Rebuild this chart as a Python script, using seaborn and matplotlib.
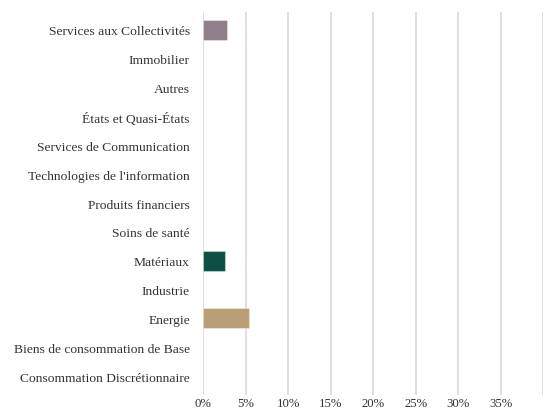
import pandas as pd
import matplotlib.pyplot as plt
import seaborn as sns
from matplotlib.ticker import FuncFormatter

# Sector breakdown (share of portfolio)
sectors = [
    "Services aux Collectivités",
    "Immobilier",
    "Autres",
    "États et Quasi-États",
    "Services de Communication",
    "Technologies de l'information",
    "Produits financiers",
    "Soins de santé",
    "Matériaux",
    "Industrie",
    "Energie",
    "Biens de consommation de Base",
    "Consommation Discrétionnaire",
]
weights = [0.028, 0, 0, 0, 0, 0, 0, 0, 0.026, 0, 0.054, 0, 0]
bar_colors = ["#8f7f8a", "#8f7f8a", "#8f7f8a", "#8f7f8a", "#8f7f8a", "#8f7f8a",
              "#8f7f8a", "#8f7f8a", "#0b4f45", "#0b4f45", "#b89f76", "#b89f76", "#b89f76"]
tick_vals = [0, 0.05, 0.10, 0.15, 0.20, 0.25, 0.30, 0.35, 0.40]

df = pd.DataFrame({"sector": sectors, "weight": weights})

sns.set_style("white")
plt.rcParams["font.family"] = ["Liberation Serif", "DejaVu Serif"]

fig, ax = plt.subplots(figsize=(5.49, 4.10), dpi=100)
fig.subplots_adjust(left=0.370, right=0.9896, top=0.968, bottom=0.034)

sns.barplot(data=df, x="weight", y="sector", hue="sector", palette=dict(zip(sectors, bar_colors)),
            legend=False, width=0.7, saturation=1, linewidth=0, ax=ax, zorder=3)
# light outline on the visible bars only
for p, w in zip(ax.patches, weights):
    if w > 0:
        p.set_linewidth(0.8)
        p.set_edgecolor((1, 1, 1, 0.35))

ax.set_xlim(0, 0.40)
ax.set_ylim(12.66, -0.62)
ax.set_xticks(tick_vals)
ax.xaxis.set_major_formatter(FuncFormatter(lambda v, _: "" if v > 0.37 else f"{v*100:.0f}%"))
ax.grid(axis="x", color="#dcdcdc", linewidth=1.3, zorder=0)
ax.grid(axis="y", visible=False)
for s in ax.spines.values():
    s.set_visible(False)
ax.tick_params(axis="y", length=0, labelsize=9.7, colors="#333333", pad=9.5)
ax.tick_params(axis="x", length=0, labelsize=9.2, colors="#333333", pad=1.5)
ax.set_xlabel("")
ax.set_ylabel("")

fig.savefig("out.png", dpi=100)
